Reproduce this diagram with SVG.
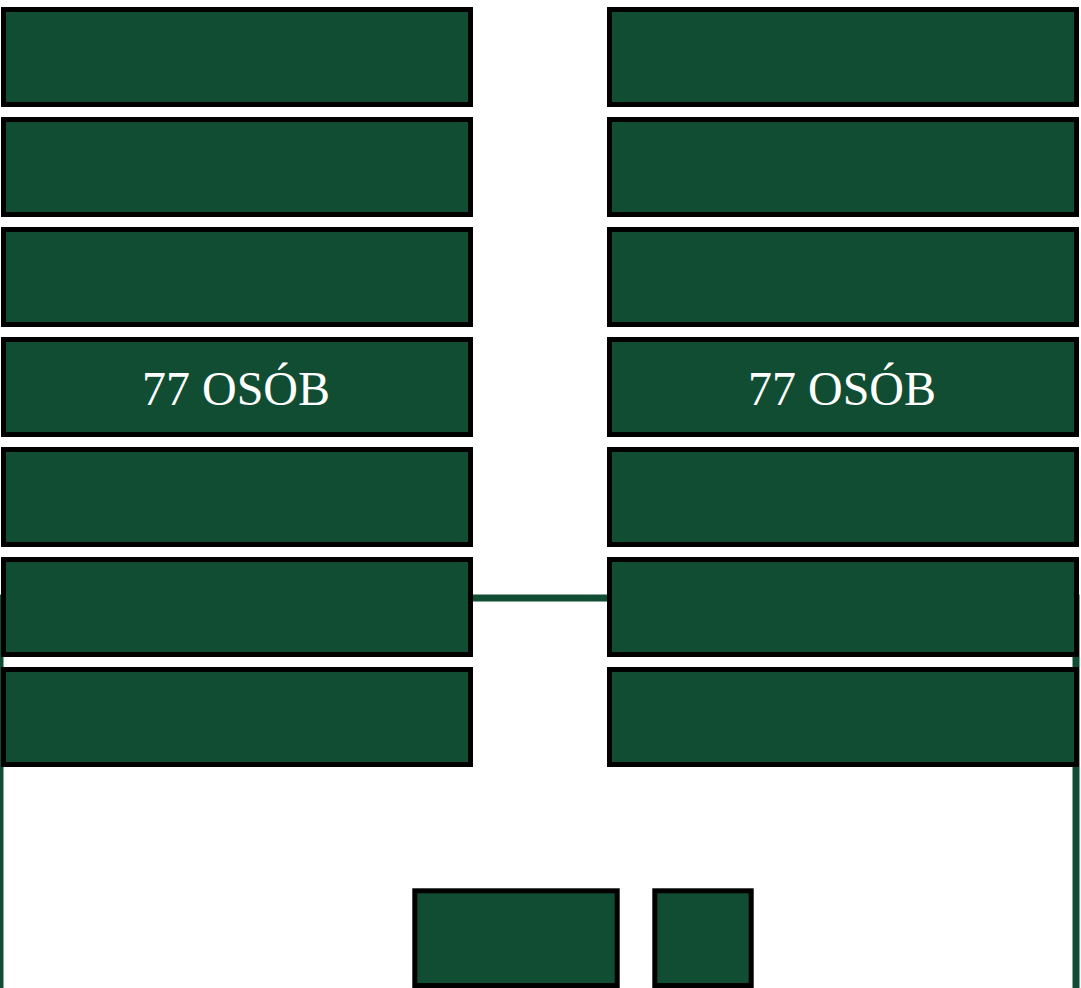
<svg xmlns="http://www.w3.org/2000/svg" width="1081" height="988" viewBox="0 0 1081 988">
<style>
.n{fill:#104d32;stroke:#000;stroke-width:5}
.c{fill:none;stroke:#104d32;stroke-width:7}
.t{fill:#fff;font-family:"Liberation Serif",serif;font-size:48px;text-anchor:middle}
</style>
<rect width="1081" height="988" fill="#fff"/>
<g id="connectors">
<path class="c" d="M0,988 V598 H1076 V988"/>
</g>
<g id="L1"><rect class="n" x="3.5" y="9.5" width="467" height="95"/></g>
<g id="L2"><rect class="n" x="3.5" y="119.5" width="467" height="95"/></g>
<g id="L3"><rect class="n" x="3.5" y="229.5" width="467" height="95"/></g>
<g id="L4"><rect class="n" x="3.5" y="339.5" width="467" height="95"/><text class="t" x="236" y="405">77 OSÓB</text></g>
<g id="L5"><rect class="n" x="3.5" y="449.5" width="467" height="95"/></g>
<g id="L6"><rect class="n" x="3.5" y="559.5" width="467" height="95"/></g>
<g id="L7"><rect class="n" x="3.5" y="669.5" width="467" height="95"/></g>
<g id="R1"><rect class="n" x="609.5" y="9.5" width="467" height="95"/></g>
<g id="R2"><rect class="n" x="609.5" y="119.5" width="467" height="95"/></g>
<g id="R3"><rect class="n" x="609.5" y="229.5" width="467" height="95"/></g>
<g id="R4"><rect class="n" x="609.5" y="339.5" width="467" height="95"/><text class="t" x="842" y="405">77 OSÓB</text></g>
<g id="R5"><rect class="n" x="609.5" y="449.5" width="467" height="95"/></g>
<g id="R6"><rect class="n" x="609.5" y="559.5" width="467" height="95"/></g>
<g id="R7"><rect class="n" x="609.5" y="669.5" width="467" height="95"/></g>
<g id="B1"><rect class="n" x="414.8" y="890.8" width="202.4" height="94.7"/></g>
<g id="B2"><rect class="n" x="654.8" y="890.8" width="96.4" height="94.7"/></g>
</svg>
